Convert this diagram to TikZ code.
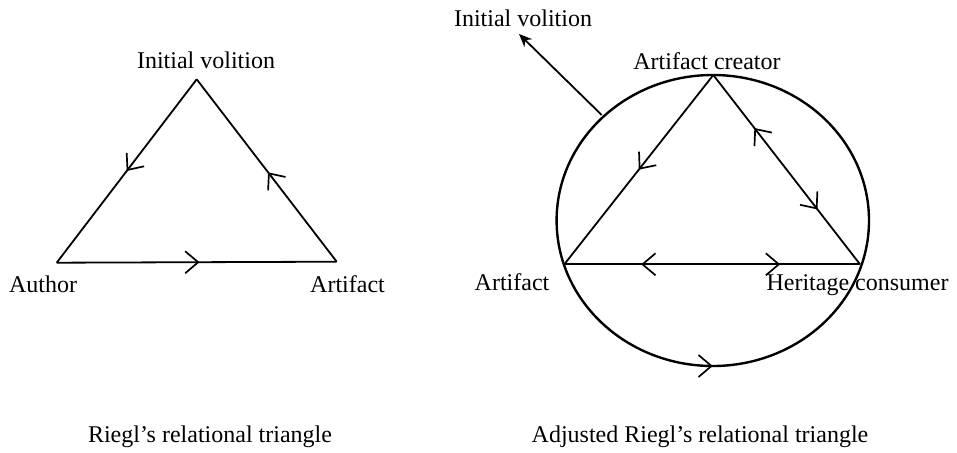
\documentclass[tikz,border=0pt]{standalone}
\usepackage{fontspec}
\setmainfont{Liberation Serif}
\usetikzlibrary{arrows.meta,decorations.markings}
\tikzset{
  barb/.tip={Straight Barb[length=13pt,width=22pt,line width=1.7pt]},
  lbl/.style={font=\fontsize{24}{28}\selectfont, anchor=base, inner sep=0pt},
  edge/.style={line width=1.8pt, line join=miter},
  circ/.style={line width=2.4pt},
  fwd/.style={postaction={decorate,decoration={markings,mark=at position #1 with {\arrow{barb}}}}},
  rev/.style={postaction={decorate,decoration={markings,mark=at position #1 with {\arrowreversed{barb}}}}},
}
\begin{document}
\begin{tikzpicture}[x=1pt,y=-1pt]
\useasboundingbox (0,0) rectangle (957,452);
% ---- left diagram ----
\coordinate (L1) at (196.7,79.3);
\coordinate (L2) at (56.7,262.7);
\coordinate (L3) at (336.7,261.7);
\node[lbl] (liv) at (206,68) {Initial volition};
\node[lbl] (lauth) at (43,292) {Author};
\node[lbl] (lart) at (347.5,292) {Artifact};
\draw[edge,fwd=0.5] (L1) -- (L2);
\draw[edge,fwd=0.51] (L2) -- (L3);
\draw[edge,fwd=0.49] (L3) -- (L1);
\node[lbl] (lcap) at (210,442) {Riegl’s relational triangle};
% ---- right diagram ----
\coordinate (R1) at (713.3,75);
\coordinate (R2) at (564.3,264.3);
\coordinate (R3) at (860,264.3);
\draw[circ,rev=0.25] (712.8,220.5) ellipse [x radius=156.2, y radius=145.5];
\draw[edge,fwd=0.5] (R1) -- (R2);
\draw[edge,rev=0.28,fwd=0.71] (R1) -- (R3);
\draw[edge,rev=0.26,fwd=0.73] (R2) -- (R3);
\coordinate (ivs) at (601.7,115);
\coordinate (ivt) at (519,34);
\draw[edge,-{Stealth[length=13pt,width=11pt]}] (ivs) -- (ivt);
\node[lbl] (riv) at (523,27) {Initial volition};
\node[lbl] (rcre) at (707,70) {Artifact creator};
\node[lbl] (rart) at (512,290) {Artifact};
\node[lbl] (rcon) at (857.5,290) {Heritage consumer};
\node[lbl] (rcap) at (700,442) {Adjusted Riegl’s relational triangle};
\end{tikzpicture}
\end{document}
